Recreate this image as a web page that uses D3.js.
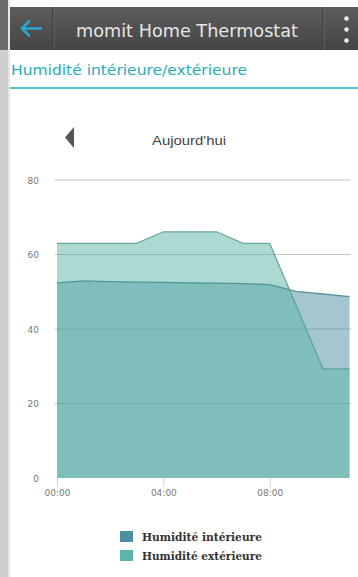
<!DOCTYPE html>
<html>
<head>
<meta charset="utf-8">
<script src="https://cdn.jsdelivr.net/npm/d3@7"></script>
<style>
  html, body { margin: 0; padding: 0; background: #fff; }
  svg { display: block; }
</style>
</head>
<body>
<svg id="screen" width="358" height="577"></svg>
<script>
// Hourly humidity readings (%)
const hours = [0, 1, 2, 3, 4, 5, 6, 7, 8, 9, 10, 11];
const interior = [52.4, 52.9, 52.7, 52.6, 52.5, 52.4, 52.3, 52.2, 51.9, 50.1, 49.4, 48.7];
const exterior = [63, 63, 63, 63, 66.1, 66.1, 66.1, 63, 63, 46.2, 29.3, 29.3];
const yTicks = [0, 20, 40, 60, 80];
const xTicks = [0, 4, 8];
const seriesNames = ["Humidité intérieure", "Humidité extérieure"];

const svg = d3.select("#screen");

// ---- app chrome ----
const defs = svg.append("defs");
const grad = defs.append("linearGradient").attr("id", "hdr").attr("x1", 0).attr("y1", 0).attr("x2", 0).attr("y2", 1);
grad.append("stop").attr("offset", "0%").attr("stop-color", "#5d5d5d");
grad.append("stop").attr("offset", "100%").attr("stop-color", "#454545");

// left edge strip
svg.append("rect").attr("x", 0).attr("y", 0).attr("width", 8).attr("height", 50).attr("fill", "#6a6a6a");
svg.append("rect").attr("x", 0).attr("y", 50).attr("width", 8).attr("height", 527).attr("fill", "#cfcfcf");
svg.append("rect").attr("x", 8).attr("y", 0).attr("width", 2).attr("height", 577).attr("fill", "#e6e6e6");

// header bar
svg.append("rect").attr("x", 10).attr("y", 7).attr("width", 348).attr("height", 43).attr("fill", "url(#hdr)");
[53, 323].forEach(x => {
  svg.append("line").attr("x1", x).attr("x2", x).attr("y1", 7).attr("y2", 50).attr("stroke", "#363636").attr("stroke-width", 1);
  svg.append("line").attr("x1", x + 1).attr("x2", x + 1).attr("y1", 7).attr("y2", 50).attr("stroke", "#666").attr("stroke-width", 1);
});
// back arrow
svg.append("path")
  .attr("d", "M41,28.5 H22 M29,21.5 L22,28.5 L29,35.5")
  .attr("fill", "none").attr("stroke", "#2aa8d2").attr("stroke-width", 2.6).attr("stroke-linecap", "round").attr("stroke-linejoin", "round");
svg.append("text").attr("x", 76).attr("y", 37)
  .attr("font-family", "DejaVu Sans, sans-serif").attr("font-size", 17).attr("fill", "#e6e6e6")
  .attr("textLength", 222).attr("lengthAdjust", "spacingAndGlyphs")
  .text("momit Home Thermostat");
[18.5, 29.5, 40.5].forEach(y => svg.append("circle").attr("cx", 346.5).attr("cy", y).attr("r", 2.2).attr("fill", "#f4f4f4"));

// section title
svg.append("text").attr("x", 11).attr("y", 75)
  .attr("font-family", "DejaVu Sans, sans-serif").attr("font-size", 14.5).attr("fill", "#27aebf")
  .attr("textLength", 236).attr("lengthAdjust", "spacingAndGlyphs")
  .text("Humidité intérieure/extérieure");
svg.append("line").attr("x1", 10).attr("x2", 358).attr("y1", 88).attr("y2", 88).attr("stroke", "#52c6cc").attr("stroke-width", 2);

// day navigation
svg.append("path").attr("d", "M65,137.5 L74,127 L74,148 Z").attr("fill", "#555");
svg.append("text").attr("x", 189).attr("y", 145).attr("text-anchor", "middle")
  .attr("font-family", "Liberation Sans, Arial, sans-serif").attr("font-size", 13).attr("fill", "#444")
  .attr("textLength", 74).attr("lengthAdjust", "spacingAndGlyphs")
  .text("Aujourd'hui");

// ---- chart ----
const x = d3.scaleLinear().domain([0, 11]).range([57, 349.5]);
const y = d3.scaleLinear().domain([0, 80]).range([478, 180]);

// grid
svg.append("g").selectAll("line").data(yTicks.filter(d => d > 0)).join("line")
  .attr("x1", 55).attr("x2", 351)
  .attr("y1", d => y(d)).attr("y2", d => y(d))
  .attr("stroke", "#c4c4c4").attr("stroke-width", 1);

// y labels
svg.append("g").selectAll("text").data(yTicks).join("text")
  .attr("x", 39).attr("y", d => y(d) + 3.5).attr("text-anchor", "end")
  .attr("font-family", "DejaVu Sans, sans-serif").attr("font-size", 9).attr("fill", "#777")
  .text(d => d);

// x axis
const xAxis = d3.axisBottom(x).tickValues(xTicks).tickSize(9).tickPadding(3)
  .tickFormat(d => String(d).padStart(2, "0") + ":00");
const gx = svg.append("g").attr("transform", "translate(0,478)").call(xAxis);
gx.select(".domain").remove();
gx.selectAll(".tick line").attr("stroke", "#d0d0d0");
gx.selectAll(".tick text").attr("font-family", "DejaVu Sans, sans-serif").attr("font-size", 9).attr("fill", "#777");

const pts = vals => hours.map((h, i) => [h, vals[i]]);
const area = d3.area().x(d => x(d[0])).y0(y(0)).y1(d => y(d[1]));
const line = d3.line().x(d => x(d[0])).y(d => y(d[1]));

const series = [
  { vals: interior, fill: "#4a8fa0", stroke: "#4a8f94" },
  { vals: exterior, fill: "#5ab5a8", stroke: "#5aa098" }
];
series.forEach(s => {
  svg.append("path").datum(pts(s.vals)).attr("d", area).attr("fill", s.fill).attr("fill-opacity", 0.5);
});
series.forEach(s => {
  svg.append("path").datum(pts(s.vals)).attr("d", line).attr("fill", "none")
    .attr("stroke", s.stroke).attr("stroke-width", 1.3).attr("stroke-opacity", 0.9);
});

// legend
const legend = svg.append("g");
const legendColors = ["#4b8fa1", "#5bb5a9"];
seriesNames.forEach((name, i) => {
  const ly = 531 + i * 19;
  legend.append("rect").attr("x", 120).attr("y", ly).attr("width", 13).attr("height", 11).attr("fill", legendColors[i]);
  legend.append("text").attr("x", 142).attr("y", ly + 10)
    .attr("font-family", "DejaVu Serif, serif").attr("font-weight", "bold").attr("font-size", 10.5).attr("fill", "#333")
    .attr("textLength", 120).attr("lengthAdjust", "spacingAndGlyphs")
    .text(name);
});
</script>
</body>
</html>
